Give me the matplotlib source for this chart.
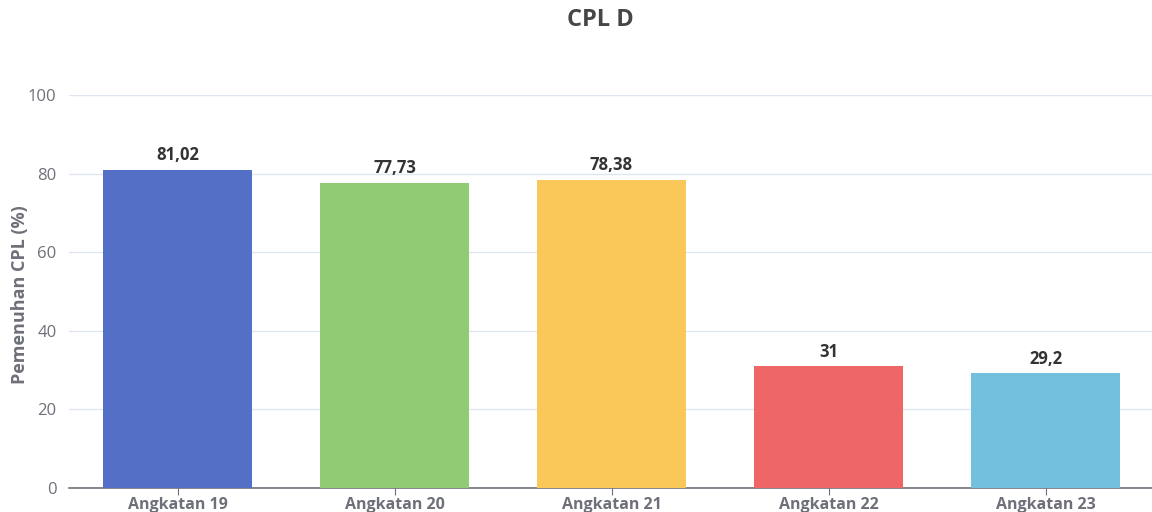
import matplotlib.pyplot as plt

plt.rcParams['font.family'] = ['Open Sans', 'DejaVu Sans']

categories = ['Angkatan 19', 'Angkatan 20', 'Angkatan 21', 'Angkatan 22', 'Angkatan 23']
values = [81.02, 77.73, 78.38, 31, 29.2]
colors = ['#5470c6', '#91cc75', '#fac858', '#ee6666', '#73c0de']
y_ticks = [0, 20, 40, 60, 80, 100]


def fmt(v):
    s = ('%g' % v)
    return s.replace('.', ',')


fig = plt.figure(figsize=(11.52, 5.12), dpi=100)
ax = fig.add_axes([69 / 1152, 1 - 488 / 512, 1085 / 1152, (488 - 95) / 512])

x = list(range(len(categories)))
bars = ax.bar(x, values, width=0.69, color=colors, zorder=3)
for xi, v in zip(x, values):
    ax.annotate(fmt(v), (xi, v), xytext=(0, 4), textcoords='offset points',
                ha='center', va='bottom', fontsize=12, fontweight='bold', color='#333333')

ax.set_xlim(-0.5, len(categories) - 0.5)
ax.set_ylim(0, 100)
ax.set_yticks(y_ticks)
ax.set_xticks(x)
ax.set_xticklabels(categories, fontsize=11.5, fontweight='bold', color='#6e7079')
ax.tick_params(axis='y', length=0, labelsize=12, labelcolor='#6e7079', pad=9)
ax.tick_params(axis='x', length=5, color='#6e7079', pad=1.5)
ax.yaxis.grid(True, color='#e0e6f1', linewidth=1, zorder=0)
ax.set_axisbelow(True)
for side in ['top', 'right', 'left']:
    ax.spines[side].set_visible(False)
ax.spines['bottom'].set_color('#6e7079')
ax.spines['bottom'].set_linewidth(1.2)

fig.text(20 / 1152, 1 - 295 / 512, 'Pemenuhan CPL (%)', rotation=90, ha='center', va='center',
         fontsize=13, fontweight='bold', color='#6e7079')
fig.text(600 / 1152, 1 - 20 / 512, 'CPL D', ha='center', va='center',
         fontsize=17, fontweight='bold', color='#464646')

fig.savefig('out.png', dpi=100)
